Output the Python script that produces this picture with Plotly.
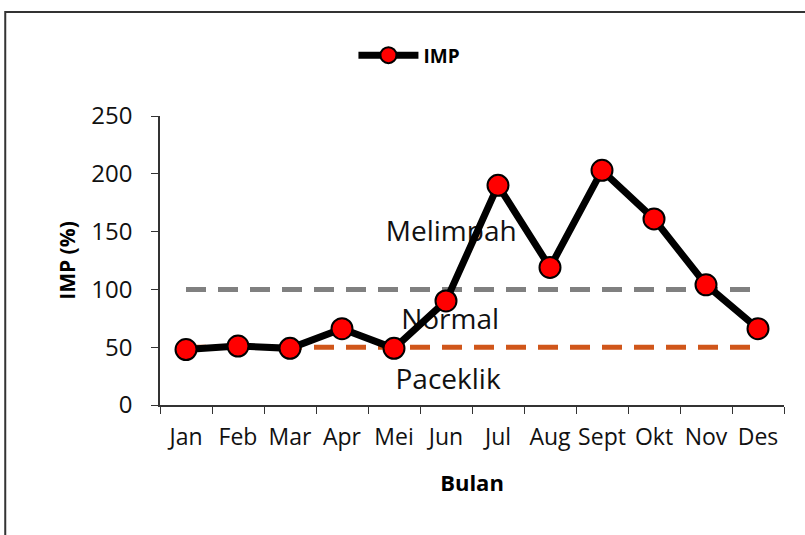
import plotly.graph_objects as go

bulan = ["Jan", "Feb", "Mar", "Apr", "Mei", "Jun", "Jul", "Aug", "Sept", "Okt", "Nov", "Des"]
imp = [48, 51, 49, 66, 49, 90, 190, 119, 203, 161, 104, 66]
batas_melimpah = [100] * 12
batas_paceklik = [50] * 12
y_ticks = [0, 50, 100, 150, 200, 250]
label_zona = ["Melimpah", "Normal", "Paceklik"]
label_x = [5.1, 5.08, 5.04]
label_y = [148, 72, 20]

xs = list(range(len(bulan)))
FONT = "Open Sans"

fig = go.Figure()
fig.add_trace(go.Scatter(x=label_x, y=label_y, text=label_zona, mode="text", showlegend=False,
                         textposition="middle center", hoverinfo="skip",
                         textfont=dict(family=FONT, size=28, color="#111111")))
fig.add_trace(go.Scatter(x=xs, y=batas_melimpah, mode="lines", showlegend=False,
                         line=dict(color="#808080", width=5, dash="20px,12px"), hoverinfo="skip"))
fig.add_trace(go.Scatter(x=xs, y=batas_paceklik, mode="lines", showlegend=False,
                         line=dict(color="#D0561A", width=5, dash="20px,12px"), hoverinfo="skip"))
fig.add_trace(go.Scatter(x=xs, y=imp, mode="lines+markers", name="IMP",
                         line=dict(color="black", width=7),
                         marker=dict(color="#FF0000", size=21, line=dict(color="black", width=2))))

fig.add_shape(type="rect", xref="paper", yref="paper", x0=-0.248, x1=1.06, y0=-0.48, y1=1.36,
              line=dict(color="#333333", width=2), layer="below")

fig.update_layout(
    width=805, height=535,
    margin=dict(l=160, r=21, t=116, b=130),
    paper_bgcolor="white", plot_bgcolor="white",
    font=dict(family=FONT, color="#111111"),
    showlegend=True,
    legend=dict(x=0.31, y=1.21, xanchor="left", yanchor="middle", orientation="h",
                font=dict(family=FONT, size=19, color="black", weight="bold"),
                itemwidth=60, bgcolor="rgba(0,0,0,0)"),
    xaxis=dict(range=[-0.5, 11.5], tickvals=xs, ticktext=bulan, ticks="", showgrid=False,
               zeroline=False, showline=True, linecolor="#333333", linewidth=1.5,
               tickfont=dict(family=FONT, size=23, color="#111111"), ticklabelstandoff=11,
               minor=dict(ticks="outside", tick0=-0.5, dtick=1, ticklen=7, tickcolor="#333333", showgrid=False),
               title=dict(text="<b>Bulan</b>", font=dict(family=FONT, size=22, color="black"), standoff=24)),
    yaxis=dict(range=[0, 250], tickvals=y_ticks, ticks="outside", ticklen=7, tickcolor="#333333",
               showgrid=False, zeroline=False, showline=True, linecolor="#333333", linewidth=1.5,
               tickfont=dict(family=FONT, size=24, color="#111111"), ticklabelstandoff=14,
               title=dict(text="<b>IMP (%)</b>", font=dict(family=FONT, size=21, color="black"), standoff=10)),
)

fig.write_html("out.html", config={"displayModeBar": False},
               post_script="document.body.style.margin='0';")
